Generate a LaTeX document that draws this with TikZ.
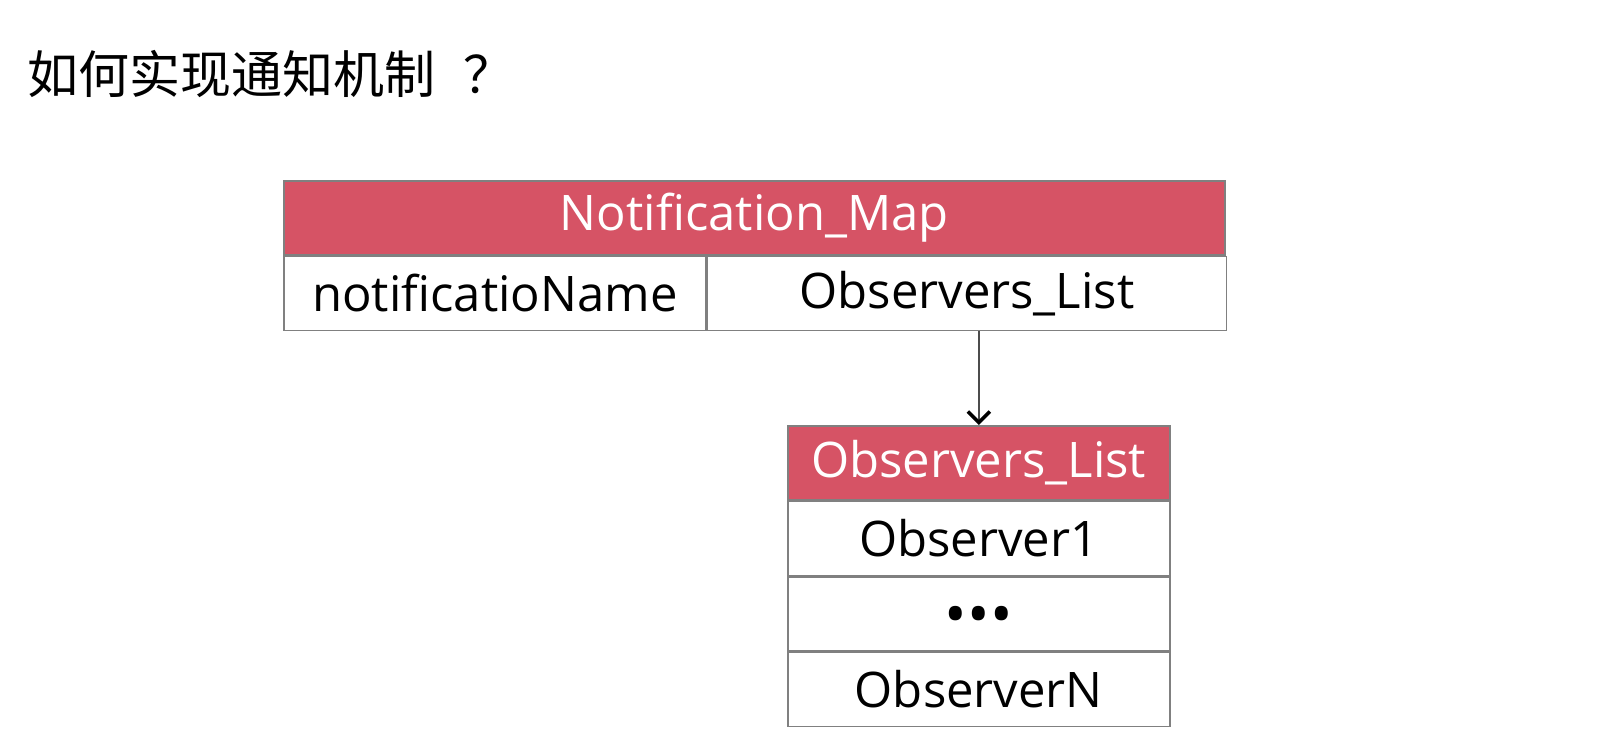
\documentclass[tikz,border=0pt]{standalone}
\usepackage{fontspec}
\setmainfont{Open Sans}
\newfontfamily\cjk{Noto Sans CJK SC}
\usetikzlibrary{arrows.meta,positioning}
\definecolor{hdrred}{RGB}{214,83,101}
\definecolor{gridgray}{RGB}{128,128,128}
\tikzset{
  cell/.style={draw=gridgray, line width=1.6pt, inner sep=0pt, anchor=north west,
    minimum height=74pt, font=\fontsize{49}{52}\selectfont},
  hdr/.style={cell, fill=hdrred, text=white},
}
\begin{document}
\begin{tikzpicture}[x=1pt,y=-1pt]
			%%%%% START %%%%%
			\useasboundingbox (0,0) rectangle (1602,740);
			
			\node[anchor=west, inner sep=0pt, font=\cjk\fontsize{51}{54}\selectfont] (title) at (27,74) {如何实现通知机制\kern28pt？};
			
			% notification map
			\node[hdr, minimum width=941pt] (map) at (283,180) {Notification\_Map};
			\node[cell, minimum width=422pt] (name) at (map.south west) {notificatioName};
			\node[cell, minimum width=519pt] (list) at (name.north east) {Observers\_List};
			
			% observers list
			\node[hdr, minimum width=382pt] (olhead) at (787,425) {Observers\_List};
			\node[cell, minimum width=382pt] (obs1) at (olhead.south west) {Observer1};
			\node[cell, minimum width=382pt, text height=42pt, text depth=0pt] (dots) at (obs1.south west) {\fontsize{60}{60}\selectfont\textbullet\textbullet\textbullet};
			\node[cell, minimum width=382pt] (obsN) at (dots.south west) {ObserverN};
			
			\draw[line width=2pt, draw=black!70, -{Straight Barb[length=11pt,width=22pt,line width=3.5pt,color=black]}] (olhead.north |- list.south) -- (olhead.north);
			
			%%%%% END %%%%%
		\end{tikzpicture}
\end{document}
